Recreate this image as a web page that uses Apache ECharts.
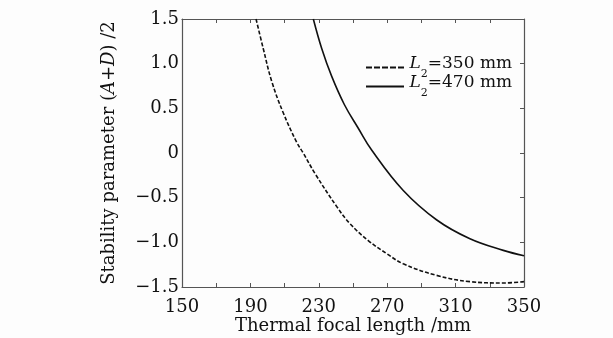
<!DOCTYPE html>
<html>
<head>
<meta charset="utf-8">
<script src="https://cdn.jsdelivr.net/npm/echarts@6/dist/echarts.min.js"></script>
<style>
  html, body { margin: 0; padding: 0; background: #fdfdfd; }
  #chart { width: 613px; height: 338px; }
</style>
</head>
<body>
<div id="chart"></div>
<script>
// focal length (mm) and (A+D)/2
const xL350 = [193.3, 197.5, 202.5, 209.2, 217.1, 220.9, 227.8, 240.5, 248.2, 258.9, 270, 279.4, 298.9, 318.4, 337.9, 350]
const yL350 = [1.5, 1.17, 0.80, 0.45, 0.12, 0.0, -0.23, -0.60, -0.79, -0.98, -1.13, -1.24, -1.37, -1.44, -1.455, -1.44]
const xL470 = [226.8, 231.7, 237.5, 245, 253, 261, 279.4, 299, 318.4, 337.9, 350]
const yL470 = [1.5, 1.17, 0.86, 0.54, 0.28, 0.03, -0.42, -0.75, -0.96, -1.09, -1.15]
const seriesNames = ['L350', 'L470']
const legendLabels = ['350 mm', '470 mm']

const font = 'DejaVu Serif'
const ink = '#111'
const axisColor = '#555'

const chart = echarts.init(document.getElementById('chart'))

const pairs = (xs, ys) => xs.map((x, i) => [x, ys[i]])

// legend icons: a dashed and a solid stroke
const dashIcon = 'path://M0,0h6v2h-6zM8,0h6v2h-6zM16,0h6v2h-6zM24,0h6v2h-6zM32,0h6v2h-6z'
const solidIcon = 'path://M0,0h38v2h-38z'

const legendRich = {
  i: { fontFamily: font, fontStyle: 'italic', fontSize: 17, color: ink, verticalAlign: 'top' },
  s: { fontFamily: font, fontSize: 11, color: ink, verticalAlign: 'bottom', padding: [14, 0, 0, 0] },
  t: { fontFamily: font, fontSize: 17, color: ink, verticalAlign: 'top' },
}

const makeLegend = (idx, top) => ({
  orient: 'vertical',
  left: 361,
  top,
  itemWidth: 39,
  itemHeight: 2,
  data: [{ name: seriesNames[idx], icon: idx === 0 ? dashIcon : solidIcon }],
  formatter: () => '{i|L}{s|2}{t|=' + legendLabels[idx] + '}',
  textStyle: { fontFamily: font, rich: legendRich },
  itemStyle: { color: ink },
})

chart.setOption({
  backgroundColor: '#fdfdfd',
  animation: false,
  textStyle: { fontFamily: font, color: ink },
  grid: { left: 182, right: 89, top: 19, bottom: 51, outerBoundsMode: 'none' },
  legend: [makeLegend(0, 50), makeLegend(1, 69)],
  xAxis: [
    {
      type: 'value',
      min: 150,
      max: 350,
      interval: 20,
      name: 'Thermal focal length /mm',
      nameLocation: 'middle',
      nameGap: 30,
      nameMoveOverlap: false,
      nameTextStyle: { fontFamily: font, fontSize: 18, color: ink },
      axisLine: { onZero: false, lineStyle: { color: axisColor, width: 1.2 } },
      axisTick: { inside: true, length: 4, lineStyle: { color: axisColor } },
      axisLabel: {
        fontFamily: font,
        fontSize: 18,
        color: ink,
        margin: 11,
        formatter: (v) => ((v - 150) % 40 === 0 ? String(v) : ''),
      },
      splitLine: { show: false },
    },
    {
      type: 'value',
      position: 'top',
      min: 150,
      max: 350,
      interval: 20,
      axisLine: { show: true, onZero: false, lineStyle: { color: axisColor, width: 1.2 } },
      axisTick: { inside: true, length: 4, lineStyle: { color: axisColor } },
      axisLabel: { show: false },
      splitLine: { show: false },
    },
  ],
  yAxis: [
    {
      type: 'value',
      min: -1.5,
      max: 1.5,
      interval: 0.5,
      name: 'Stability parameter ({i|A}+{i|D}) /2',
      nameLocation: 'middle',
      nameGap: 64,
      nameTextStyle: {
        fontFamily: font,
        fontSize: 18,
        color: ink,
        rich: { i: { fontFamily: font, fontSize: 18, fontStyle: 'italic', color: ink } },
      },
      axisLine: { show: true, onZero: false, lineStyle: { color: axisColor, width: 1.2 } },
      axisTick: { show: false },
      axisLabel: {
        fontFamily: font,
        fontSize: 18,
        color: ink,
        margin: 3,
        formatter: (v) => (v === 0 ? '0' : v.toFixed(1).replace('-', '\u2212')),
      },
      splitLine: { show: false },
    },
    {
      type: 'value',
      position: 'right',
      min: -1.5,
      max: 1.5,
      interval: 0.5,
      axisLine: { show: true, onZero: false, lineStyle: { color: axisColor, width: 1.2 } },
      axisTick: { inside: true, length: 4, lineStyle: { color: axisColor } },
      axisLabel: { show: false },
      splitLine: { show: false },
    },
  ],
  series: [
    {
      name: 'L350',
      type: 'line',
      data: pairs(xL350, yL350),
      smooth: 0.4,
      showSymbol: false,
      symbol: 'none',
      clip: true,
      lineStyle: { color: ink, width: 1.6, type: [4, 2] },
      itemStyle: { color: ink },
    },
    {
      name: 'L470',
      type: 'line',
      data: pairs(xL470, yL470),
      smooth: 0.4,
      showSymbol: false,
      symbol: 'none',
      clip: true,
      lineStyle: { color: ink, width: 1.6 },
      itemStyle: { color: ink },
    },
  ],
})
</script>
</body>
</html>
